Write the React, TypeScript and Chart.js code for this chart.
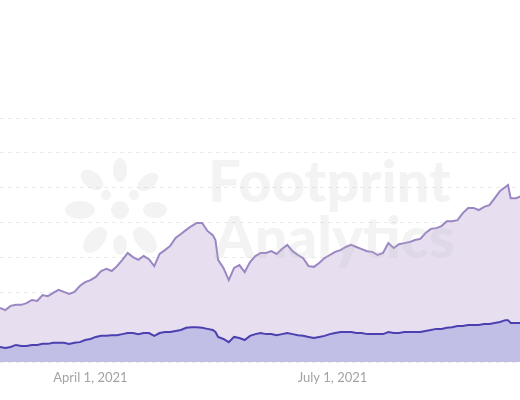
import React, { useEffect, useRef } from "react";
import { Chart, registerables } from "chart.js";

Chart.register(...registerables);

// Day offsets relative to April 1, 2021
const days = [
  -34, -32, -30, -28, -26, -24, -22, -20, -18, -16, -14, -12, -10, -8, -6, -4, -2,
  0, 2, 4, 6, 8, 10, 12, 14, 16, 18, 20, 22, 24, 26, 28, 30, 32, 34, 36, 38, 40,
  42, 44, 46, 47, 48, 50, 52, 54, 56, 58, 60, 62, 64, 66, 68, 70, 72, 74, 76, 78,
  80, 82, 84, 86, 88, 90, 92, 94, 96, 98, 100, 102, 104, 106, 108, 110, 112, 114,
  116, 118, 120, 122, 124, 126, 128, 130, 132, 134, 136, 138, 140, 142, 144, 146,
  148, 150, 152, 154, 156, 157, 158, 160, 162,
];

const upperSeries = [
  15.5, 14.9, 16.1, 16.4, 16.4, 16.9, 17.8, 17.5, 19.2, 18.9, 19.8, 20.7, 20.1, 19.5, 20.1, 21.8, 22.9,
  23.5, 24.4, 26.1, 26.7, 26.1, 27.5, 29.3, 31.3, 30.1, 29.3, 30.4, 29.5, 27.5, 31.0, 32.1, 33.3, 35.6, 36.7, 37.9, 39.0, 39.9,
  39.9, 37.6, 36.4, 35.0, 29.3, 27.0, 23.5, 27.0, 27.8, 25.8, 28.7, 30.4, 31.3, 31.3, 31.8, 31.0, 32.4, 33.6, 31.8, 30.7,
  29.8, 27.5, 27.3, 28.4, 29.8, 30.7, 31.6, 32.1, 33.0, 33.6, 33.0, 32.4, 31.8, 31.6, 30.7, 31.3, 34.1, 32.7,
  33.8, 34.1, 34.4, 35.0, 35.3, 37.0, 38.2, 38.4, 39.0, 40.4, 40.4, 40.7, 42.7, 44.2, 44.2, 43.6,
  44.5, 45.0, 47.0, 49.1, 50.2, 50.8, 47.0, 47.0, 47.6,
];

const lowerSeries = [
  4.3, 4.0, 4.3, 4.9, 4.6, 4.6, 4.9, 4.9, 5.2, 5.2, 5.5, 5.5, 5.5, 5.2, 5.5, 5.7, 6.3,
  6.6, 7.2, 7.5, 7.5, 7.7, 7.7, 8.0, 8.3, 8.3, 8.0, 8.3, 8.3, 7.5, 8.3, 8.6, 8.6, 8.9, 9.2, 9.8, 10.0, 10.0,
  9.8, 9.5, 9.2, 8.6, 7.2, 6.6, 5.7, 7.2, 6.9, 6.3, 7.5, 8.0, 8.3, 8.0, 8.0, 7.7, 8.0, 8.3, 8.0, 7.7,
  7.5, 7.2, 6.9, 7.2, 7.5, 8.0, 8.3, 8.6, 8.6, 8.6, 8.3, 8.3, 8.0, 8.0, 8.0, 8.0, 8.6, 8.3,
  8.3, 8.6, 8.6, 8.6, 8.6, 8.9, 9.2, 9.5, 9.5, 9.8, 10.0, 10.3, 10.3, 10.6, 10.6, 10.6,
  10.9, 10.9, 11.2, 11.5, 12.0, 12.0, 11.2, 11.2, 11.2,
];

const tickDays = [0, 91];
const tickLabels = ["April 1, 2021", "July 1, 2021"];

const watermark = {
  id: "watermark",
  afterDatasetsDraw(chart: any) {
    const ctx = chart.ctx;
    ctx.save();
    ctx.fillStyle = "rgba(190,190,190,0.18)";
    // logo petals
    const cx = 120, cy = 200;
    const petals = [
      [0, -30, 7, 12, 0],
      [28, -18, 7, 12, 0.9],
      [35, 10, 12, 8, 0],
      [-28, -20, 8, 13, -0.9],
      [-40, 10, 15, 9, 0],
      [0, 10, 9, 9, 0],
      [14, -5, 5, 5, 0],
      [-14, -5, 5, 5, 0],
      [-25, 40, 9, 15, 0.7],
      [25, 40, 9, 15, -0.7],
      [0, 45, 7, 10, 0],
    ];
    for (const [dx, dy, rx, ry, rot] of petals) {
      ctx.beginPath();
      ctx.ellipse(cx + dx, cy + dy, rx, ry, rot, 0, Math.PI * 2);
      ctx.fill();
    }
    ctx.font = "900 58px Lato, 'Open Sans', sans-serif";
    ctx.textBaseline = "alphabetic";
    ctx.fillText("Footprint", 208, 202);
    ctx.fillText("Analytics", 214, 258);
    ctx.restore();
  },
};

export default function App() {
  const ref = useRef<HTMLCanvasElement | null>(null);

  useEffect(() => {
    if (!ref.current) return;
    const chart = new Chart(ref.current, {
      type: "line",
      data: {
        datasets: [
          {
            label: "Lower",
            data: days.map((d, i) => ({ x: d, y: lowerSeries[i] })),
            borderColor: "#4c40b0",
            backgroundColor: "#c2bfe6",
            borderWidth: 2,
            pointRadius: 0,
            fill: "origin",
            tension: 0,
          },
          {
            label: "Upper",
            data: days.map((d, i) => ({ x: d, y: upperSeries[i] })),
            borderColor: "#9a86c2",
            backgroundColor: "#e7def0",
            borderWidth: 2,
            pointRadius: 0,
            fill: "origin",
            tension: 0,
          },
        ],
      },
      options: {
        animation: false,
        responsive: false,
        maintainAspectRatio: false,
        layout: { padding: { top: 118, left: 0, right: 0, bottom: 0 } },
        plugins: {
          legend: { display: false },
          tooltip: { enabled: false },
        },
        scales: {
          x: {
            type: "linear",
            min: -34,
            max: 161.5,
            grid: { display: false, drawTicks: false },
            border: { display: false },
            afterBuildTicks: (scale: any) => {
              scale.ticks = tickDays.map((v) => ({ value: v }));
            },
            afterFit: (scale: any) => {
              scale.height = 38;
            },
            ticks: {
              autoSkip: false,
              maxRotation: 0,
              padding: 8,
              color: "#a3a3a3",
              font: { family: "Lato, 'Open Sans', sans-serif", size: 13 },
              callback: (value: any) => {
                const idx = tickDays.indexOf(Number(value));
                return idx >= 0 ? tickLabels[idx] : "";
              },
            },
          },
          y: {
            min: 0,
            max: 70,
            z: 1,
            ticks: { display: false, stepSize: 10 },
            grid: { color: "rgba(0,0,0,0.08)", drawTicks: false, lineWidth: 1 },
            border: { display: false, dash: [4, 4] },
            afterFit: (scale: any) => {
              scale.width = 0;
            },
          },
        },
      },
      plugins: [watermark],
    });
    return () => chart.destroy();
  }, []);

  return (
    <div style={{ position: "fixed", left: 0, top: 0, width: 520, height: 400, background: "#fff" }}>
      <canvas ref={ref} width={520} height={400} style={{ display: "block", width: 520, height: 400 }} />
    </div>
  );
}
